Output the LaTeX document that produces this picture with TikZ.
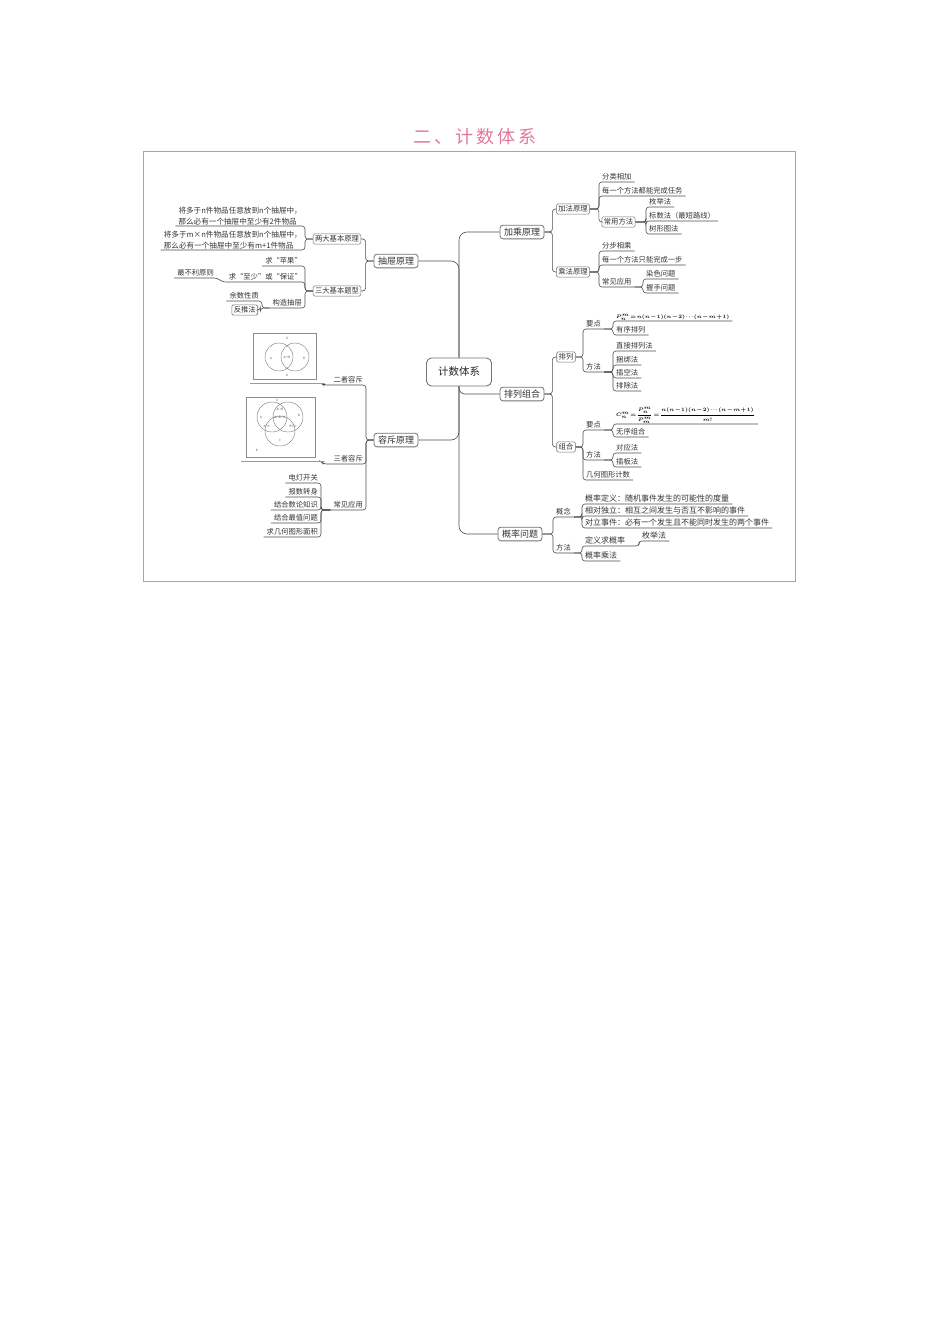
\documentclass[tikz,border=0pt]{standalone}
\usepackage{amsmath}
\usepackage{fontspec}
\setmainfont{Noto Sans CJK SC}
\usetikzlibrary{calc}
\definecolor{titlepink}{RGB}{226,120,153}
\newcommand\rlnk[2]{\draw[ln] (#1) -- (#2.south west |- #1) -- (#2.south west) -- (#2.south east);}
\newcommand\llnk[2]{\draw[ln] (#1) -- (#2.south east |- #1) -- (#2.south east) -- (#2.south west);}
\newcommand\tightmath{\medmuskip=1mu\relax\thickmuskip=2mu\relax\thinmuskip=1mu\relax}
\tikzset{
  ln/.style={draw=black!70, line width=0.6pt, rounded corners=3pt},
  lf/.style={font=\fontsize{7.3}{9}\selectfont, inner xsep=3pt, inner ysep=1pt, text=black!80, text height=5.8pt, text depth=0.9pt},
  rl/.style={lf, anchor=south west},
  ll/.style={lf, anchor=south east},
  ml/.style={text height=, text depth=, align=left, font=\fontsize{7.6}{10.5}\selectfont},
  fm/.style={text height=, text depth=, font=\fontsize{5.3}{6.6}\selectfont\boldmath\tightmath, text=black, inner ysep=0.5pt},
  pb/.style={font=\fontsize{8}{9}\selectfont, text height=6.4pt},
  bx/.style={draw=black!55, line width=0.6pt, rounded corners=1.5pt, fill=white, font=\fontsize{7.3}{9}\selectfont, inner xsep=2pt, inner ysep=1.8pt, text height=5.8pt, text depth=0.9pt, text=black!80},
  bxb/.style={draw=black!55, line width=0.8pt, rounded corners=3pt, fill=white, font=\fontsize{9}{11}\selectfont, inner xsep=4pt, inner ysep=2.5pt, text height=7.5pt, text depth=1.2pt, text=black!80},
  rootbox/.style={draw=black!55, line width=0.9pt, rounded corners=5pt, fill=white, font=\fontsize{10.5}{12}\selectfont, minimum width=65pt, minimum height=28pt, text=black!85},
  vframe/.style={draw=black!45, line width=0.5pt, inner sep=0pt, anchor=north west},
  vc/.style={draw=black!55, line width=0.4pt},
  vl/.style={font=\fontsize{3}{3}\selectfont, inner sep=0pt, text=black!70},
  imgline/.style={draw=black!40, line width=1.1pt, rounded corners=2pt}
}
\begin{document}
\begin{tikzpicture}[x=1pt,y=-1pt]
\useasboundingbox (0,0) rectangle (950,1344);
\node[text=titlepink, font=\fontsize{18}{20}\selectfont] (title) at (475,137) {二\kern3pt、\kern3pt计\kern3pt数\kern3pt体\kern3pt系};
\draw[black!35, line width=0.8pt] (143,151) rectangle (795,581);

% root and main branches
\node[rootbox] (root) at (459,372) {计数体系};
\node[bxb] (jc) at (522,232) {加乘原理};
\node[bxb] (ct) at (396,261) {抽屉原理};
\node[bxb] (pz) at (522,394) {排列组合};
\node[bxb] (rc) at (396,440) {容斥原理};
\node[bxb] (gl) at (520,534) {概率问题};
\draw[ln, rounded corners=8pt] (root.north) |- (jc.west);
\draw[ln, rounded corners=8pt] (root.north) |- (ct.east);
\draw[ln, rounded corners=6pt] (root.south) |- (pz.west);
\draw[ln, rounded corners=8pt] (root.south) |- (rc.east);
\draw[ln, rounded corners=8pt] (root.south) |- (gl.west);

% 加乘原理
\node[bx] (jf) at (573,209) {加法原理};
\node[bx] (cf) at (573,272) {乘法原理};
\draw[ln] (jc.east) -- ++(8,0) |- (jf.west);
\draw[ln] (jc.east) -- ++(8,0) |- (cf.west);
\node[rl] (a1) at (599,182) {分类相加};
\node[rl] (a2) at (599,196) {每一个方法都能完成任务};
\node[bx] (a3) at (618.5,222) {常用方法};
\rlnk{jf.east}{a1}
\rlnk{jf.east}{a2}
\draw[ln] (jf.east) -- ++(9,0) |- (a3.west);
\node[rl] (a31) at (646,207) {枚举法};
\node[rl] (a32) at (646,221) {标数法（最短路线）};
\node[rl] (a33) at (646,234) {树形图法};
\rlnk{a3.east}{a31}
\rlnk{a3.east}{a32}
\rlnk{a3.east}{a33}
\node[rl] (b1) at (599,251) {分步相乘};
\node[rl] (b2) at (599,265) {每一个方法只能完成一步};
\node[rl] (b3) at (599,287) {常见应用};
\rlnk{cf.east}{b1}
\rlnk{cf.east}{b2}
\rlnk{cf.east}{b3}
\node[rl] (b31) at (643,279) {染色问题};
\node[rl] (b32) at (643,293) {握手问题};
\rlnk{b3.south east}{b31}
\rlnk{b3.south east}{b32}

% 排列组合
\node[bx] (pl) at (566,357) {排列};
\node[bx] (zh) at (566,447) {组合};
\draw[ln] (pz.east) -- ++(8,0) |- (pl.west);
\draw[ln] (pz.east) -- ++(8,0) |- (zh.west);
\node[rl] (p1) at (583,329) {要点};
\node[rl] (p2) at (583,372) {方法};
\rlnk{pl.east}{p1}
\rlnk{pl.east}{p2}
\node[rl, fm] (p11) at (613,321) {$P_n^m=n(n-1)(n-2)\cdots(n-m+1)$};
\node[rl] (p12) at (613,335) {有序排列};
\rlnk{p1.south east}{p11}
\rlnk{p1.south east}{p12}
\node[rl] (p21) at (613,351) {直接排列法};
\node[rl] (p22) at (613,365) {捆绑法};
\node[rl] (p23) at (613,378) {插空法};
\node[rl] (p24) at (613,391) {排除法};
\rlnk{p2.south east}{p21}
\rlnk{p2.south east}{p22}
\rlnk{p2.south east}{p23}
\rlnk{p2.south east}{p24}
\node[rl] (z1) at (583,430) {要点};
\node[rl] (z2) at (583,460) {方法};
\node[rl] (z3) at (583,480) {几何图形计数};
\rlnk{zh.east}{z1}
\rlnk{zh.east}{z2}
\rlnk{zh.east}{z3}
\node[rl, fm] (z11) at (613,424) {$C_n^m=\dfrac{P_n^m}{P_m^m}=\dfrac{n(n-1)(n-2)\cdots(n-m+1)}{m!}$};
\node[rl] (z12) at (613,437) {无序组合};
\rlnk{z1.south east}{z11}
\rlnk{z1.south east}{z12}
\node[rl] (z21) at (613,453) {对应法};
\node[rl] (z22) at (613,467) {插板法};
\rlnk{z2.south east}{z21}
\rlnk{z2.south east}{z22}

% 概率问题
\node[rl] (g1) at (553,517) {概念};
\node[rl] (g2) at (553,553) {方法};
\rlnk{gl.east}{g1}
\rlnk{gl.east}{g2}
\node[rl, pb] (g11) at (582,504) {概率定义：随机事件发生的可能性的度量};
\node[rl, pb] (g12) at (582,516) {相对独立：相互之间发生与否互不影响的事件};
\node[rl, pb] (g13) at (582,528) {对立事件：必有一个发生且不能同时发生的两个事件};
\rlnk{g1.south east}{g11}
\rlnk{g1.south east}{g12}
\rlnk{g1.south east}{g13}
\node[rl, pb] (g21) at (582,546) {定义求概率};
\node[rl, pb] (g22) at (582,561) {概率乘法};
\rlnk{g2.south east}{g21}
\rlnk{g2.south east}{g22}
\node[rl, pb] (g211) at (639,541) {枚举法};
\rlnk{g21.south east}{g211}

% 抽屉原理
\node[bx] (ld) at (337,239) {两大基本原理};
\node[bx] (sd) at (337,291) {三大基本题型};
\draw[ln] (ct.west) -- ++(-8,0) |- (ld.east);
\draw[ln] (ct.west) -- ++(-8,0) |- (sd.east);
\node[ll, ml] (l1) at (305,226) {将多于n件物品任意放到n个抽屉中，\\那么必有一个抽屉中至少有2件物品};
\node[ll, ml] (l2) at (305,250) {将多于m×n件物品任意放到n个抽屉中，\\那么必有一个抽屉中至少有m+1件物品};
\llnk{ld.west}{l1}
\llnk{ld.west}{l2}
\node[ll] (s1) at (305,266) {求“苹果”};
\node[ll] (s2) at (305,282) {求“至少”或“保证”};
\node[ll] (s3) at (305,308) {构造抽屉};
\llnk{sd.west}{s1}
\llnk{sd.west}{s2}
\llnk{sd.west}{s3}
\node[ll] (s21) at (217,278) {最不利原则};
\draw[ln] (s2.south west) -- ++(-3,0) -- (s21.south east) -- (s21.south west);
\node[ll] (s31) at (262,301) {余数性质};
\llnk{s3.south west}{s31}
\node[bx, anchor=east] (s32) at (258,310) {反推法};
\draw[ln] (s3.south west) -- ++(-9,0) |- (s32.east);

% 容斥原理
\node[ll] (r1) at (366,385) {二者容斥};
\node[ll] (r2) at (366,464) {三者容斥};
\node[ll] (r3) at (366,510) {常见应用};
\llnk{rc.west}{r1}
\llnk{rc.west}{r2}
\llnk{rc.west}{r3}
% two-set Venn picture
\node[vframe, minimum width=63pt, minimum height=46pt] (v2) at (253,333) {};
\draw[vc] (279,357) circle[radius=14pt];
\draw[vc] (295,357) circle[radius=14pt];
\node[vl] (v2u) at (287,338) {U};
\node[vl] (v2a) at (271,358) {A};
\node[vl] (v2ab) at (287,357) {A∩B};
\node[vl] (v2b) at (304,358) {B};
\node[vl] (v2d) at (287,375) {D};
\draw[ln] (r1.south west) -- ++(-7,0) -- ++(-3,-2) -- ($(v2.south east)+(6,4)$);
\draw[imgline] ($(v2.south east)+(6,4)$) -- ($(v2.south west)+(-3,4)$);
% three-set Venn picture
\node[vframe, minimum width=69pt, minimum height=60pt] (v3) at (246,397) {};
\draw[vc] (272,417) circle[radius=15pt];
\draw[vc] (288,417) circle[radius=15pt];
\draw[vc] (280,431) circle[radius=15pt];
\node[vl] (v3u) at (277,400) {U};
\node[vl] (v3a) at (261,417) {A};
\node[vl] (v3b) at (299,415) {B};
\node[vl] (v3ab) at (280,409) {A∩B};
\node[vl] (v3abc) at (280,417) {A∩B∩C};
\node[vl] (v3ac) at (267,426) {A∩C};
\node[vl] (v3bc) at (293,426) {B∩C};
\node[vl] (v3c) at (280,440) {C};
\node[vl] (v3d) at (257,450) {D};
\draw[ln] (r2.south west) -- ++(-7,0) -- ++(-3,-3) -- ($(v3.south east)+(7,4)$);
\draw[imgline] ($(v3.south east)+(7,4)$) -- ($(v3.south west)+(-5,4)$);
% 常见应用
\node[ll] (r31) at (321,483) {电灯开关};
\node[ll] (r32) at (321,497) {报数转身};
\node[ll] (r33) at (321,510) {结合数论知识};
\node[ll] (r34) at (321,523) {结合最值问题};
\node[ll] (r35) at (321,537) {求几何图形面积};
\llnk{r3.south west}{r31}
\llnk{r3.south west}{r32}
\llnk{r3.south west}{r33}
\llnk{r3.south west}{r34}
\llnk{r3.south west}{r35}
\end{tikzpicture}
\end{document}
